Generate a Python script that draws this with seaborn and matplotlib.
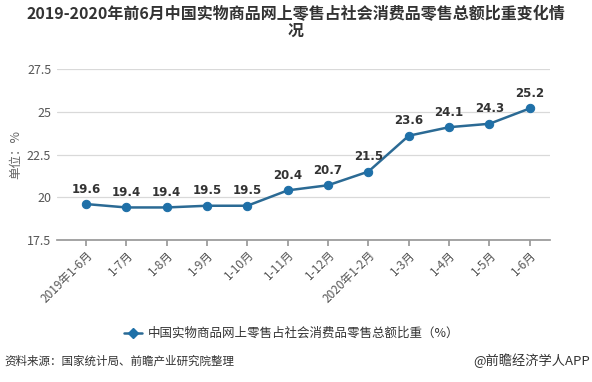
import matplotlib
matplotlib.use("Agg")
import matplotlib.pyplot as plt
import seaborn as sns
import pandas as pd

categories = ["2019年1-6月", "1-7月", "1-8月", "1-9月", "1-10月", "1-11月", "1-12月",
              "2020年1-2月", "1-3月", "1-4月", "1-5月", "1-6月"]
values = [19.6, 19.4, 19.4, 19.5, 19.5, 20.4, 20.7, 21.5, 23.6, 24.1, 24.3, 25.2]
yticks = [17.5, 20, 22.5, 25, 27.5]
ytick_labels = ["17.5", "20", "22.5", "25", "27.5"]
series_name = "中国实物商品网上零售占社会消费品零售总额比重（%）"

sns.set_theme(style="white")
plt.rcParams['font.family'] = ['Noto Sans CJK SC', 'DejaVu Sans']

df = pd.DataFrame({"x": range(len(categories)), "y": values, "s": series_name})

fig = plt.figure(figsize=(5.92, 3.82), dpi=100)
ax = fig.add_axes([0.096, 0.372, 0.833, 0.447])

line_c = "#2b6a94"
mark_c = "#1f70a8"
sns.lineplot(data=df, x="x", y="y", hue="s", palette=[line_c], ax=ax, linewidth=1.8,
             marker="o", markersize=6, markerfacecolor=mark_c, markeredgecolor=mark_c,
             legend=False)

for i, v in enumerate(values):
    ax.annotate(f"{v}", (i, v), xytext=(0, 6), textcoords="offset points",
                ha="center", va="bottom", fontsize=8.5, fontweight="bold", color="#333333",
                family=['DejaVu Sans'])

ax.set_xlim(-0.72, 11.5)
ax.set_ylim(17.5, 27.5)
ax.set_yticks(yticks)
ax.set_yticklabels(ytick_labels, color="#555555", fontsize=9)
ax.set_xticks(range(len(categories)))
ax.set_xticklabels(categories, rotation=45, ha="right", rotation_mode="anchor",
                   color="#555555", fontsize=8.5)
ax.tick_params(axis="x", length=4, color="#999999", pad=2, direction="out")
ax.tick_params(axis="y", length=0, pad=4)
ax.xaxis.set_ticks_position("bottom")
ax.grid(axis="y", color="#d9d9d9", linewidth=0.9)
ax.set_axisbelow(True)
for s in ["top", "right", "left"]:
    ax.spines[s].set_visible(False)
ax.spines["bottom"].set_color("#999999")
ax.set_xlabel("")
ax.set_ylabel("单位：%", color="#666666", fontsize=9, labelpad=4)
ax.yaxis.set_label_coords(-0.07, 0.5)

fig.text(0.5, 0.985, "2019-2020年前6月中国实物商品网上零售占社会消费品零售总额比重变化情\n况",
         ha="center", va="top", fontsize=11.5, fontweight="bold", color="#333333",
         linespacing=1.05)

# legend
lx, ly = 0.21, 0.128
fig.lines.append(plt.Line2D([lx, lx + 0.015, lx + 0.03], [ly, ly, ly], transform=fig.transFigure,
                            color=line_c, linewidth=1.8, marker="D", markersize=5,
                            markevery=[1], markerfacecolor=mark_c, markeredgecolor=mark_c))
fig.text(lx + 0.04, ly, series_name, ha="left", va="center", fontsize=9, color="#333333")

fig.text(0.008, 0.055, "资料来源：国家统计局、前瞻产业研究院整理", ha="left", va="center",
         fontsize=8.3, color="#333333")
fig.text(0.997, 0.055, "@前瞻经济学人APP", ha="right", va="center", fontsize=9.5, color="#333333")

fig.savefig("out.png", dpi=100)
